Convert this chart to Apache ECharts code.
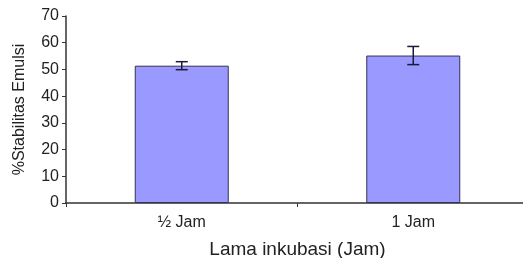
<!doctype html>
<html>
<head>
    <meta charset="utf-8">
    <title>Stabilitas Emulsi</title>
    <style>
        html, body { margin: 0; padding: 0; background: #fff; }
        #chart { width: 523px; height: 258px; }
    </style>
</head>
<body>
<div id="chart"></div>
<script src="https://cdn.jsdelivr.net/npm/echarts@6/dist/echarts.min.js"></script>
<script>
    // data
    var categories = ['½ Jam', '1 Jam'];
    var stabilitas = [51.4, 55.2];
    var galat = [1.5, 3.4];

    var fontFam = '"Liberation Sans", Arial, sans-serif';
    var myChart = echarts.init(document.getElementById('chart'));

    // error bars via custom series
    function errorBar(params, api) {
        var idx = api.value(0);
        var hi = api.coord([idx, api.value(1)]);
        var lo = api.coord([idx, api.value(2)]);
        var cap = 6;
        var style = { stroke: '#1a1a3a', lineWidth: 1.5 };
        return {
            type: 'group',
            children: [
                { type: 'line', shape: { x1: hi[0], y1: hi[1], x2: lo[0], y2: lo[1] }, style: style },
                { type: 'line', shape: { x1: hi[0] - cap, y1: hi[1], x2: hi[0] + cap, y2: hi[1] }, style: style },
                { type: 'line', shape: { x1: lo[0] - cap, y1: lo[1], x2: lo[0] + cap, y2: lo[1] }, style: style }
            ]
        };
    }

    var errData = [];
    for (var i = 0; i < categories.length; i++) {
        errData.push([i, stabilitas[i] + galat[i], stabilitas[i] - galat[i]]);
    }

    var option = {
        animation: false,
        backgroundColor: '#fff',
        grid: { left: 66, width: 463, top: 16, bottom: 55, outerBoundsMode: 'none', containLabel: false },
        xAxis: {
            type: 'category',
            data: categories,
            name: 'Lama inkubasi (Jam)',
            nameLocation: 'middle',
            nameGap: 37,
            nameTextStyle: { color: '#222', fontSize: 19, fontFamily: fontFam },
            axisLine: { lineStyle: { color: '#333', width: 1.5 } },
            axisTick: { show: true, length: 4, lineStyle: { color: '#333' } },
            axisLabel: { color: '#222', fontSize: 16, fontFamily: fontFam, margin: 12 }
        },
        yAxis: {
            type: 'value',
            min: 0,
            max: 70,
            interval: 10,
            name: '%Stabilitas Emulsi',
            nameLocation: 'middle',
            nameGap: 38,
            nameRotate: 90,
            nameTextStyle: { color: '#222', fontSize: 16, fontFamily: fontFam },
            axisLine: { show: true, lineStyle: { color: '#333', width: 1.5 } },
            axisTick: { show: true, length: 4, lineStyle: { color: '#333' } },
            axisLabel: { color: '#222', fontSize: 16, fontFamily: fontFam, margin: 7 },
            splitLine: { show: false }
        },
        series: [{
            type: 'bar',
            data: stabilitas,
            barWidth: 94,
            itemStyle: { color: '#9999ff', borderColor: '#333355', borderWidth: 1 }
        }, {
            type: 'custom',
            renderItem: errorBar,
            data: errData,
            encode: { x: 0, y: [1, 2] },
            z: 10
        }]
    };
    myChart.setOption(option);
</script>
</body>
</html>
